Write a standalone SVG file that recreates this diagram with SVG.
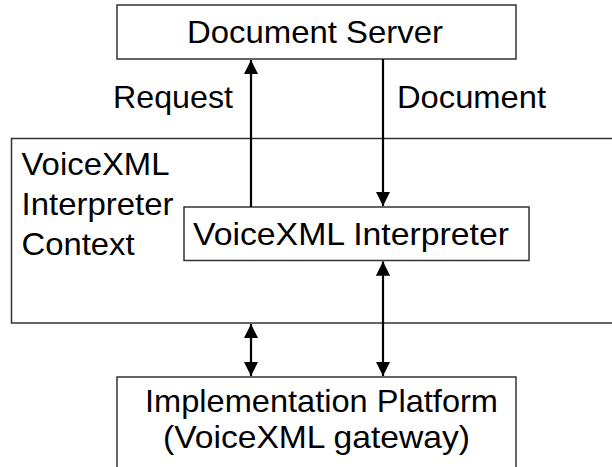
<svg xmlns="http://www.w3.org/2000/svg" width="612" height="467" viewBox="0 0 612 467">
<defs>
<style>
.box{fill:#fff;stroke:#333;stroke-width:1.5}
.t{font-family:"Liberation Sans",Arial,sans-serif;font-size:32px;fill:#000}
.c{stroke:#000;stroke-width:2.2;fill:none}
</style>
<marker id="ah" viewBox="0 0 10 10" refX="10" refY="5" markerWidth="6.5" markerHeight="6.5" markerUnits="strokeWidth" orient="auto-start-reverse">
<path d="M0,0 L10,5 L0,10 z" fill="#000"/>
</marker>
</defs>
<rect width="612" height="467" fill="#fff"/>
<g id="context">
<path class="box" d="M613,138.5 H11.5 V323 H613"/>
<text class="t" x="21.5" y="175" textLength="148" lengthAdjust="spacingAndGlyphs">VoiceXML</text>
<text class="t" x="21.5" y="215" textLength="152" lengthAdjust="spacingAndGlyphs">Interpreter</text>
<text class="t" x="21.5" y="255" textLength="113" lengthAdjust="spacingAndGlyphs">Context</text>
</g>
<g id="server">
<rect class="box" x="117" y="5" width="399" height="54"/>
<text class="t" x="187" y="43" textLength="256" lengthAdjust="spacingAndGlyphs">Document Server</text>
</g>
<g id="interpreter">
<rect class="box" x="184" y="207" width="345" height="53.5"/>
<text class="t" x="193" y="245" textLength="316" lengthAdjust="spacingAndGlyphs">VoiceXML Interpreter</text>
</g>
<g id="platform">
<rect class="box" x="117" y="377" width="399" height="100"/>
<text class="t" x="145" y="412" textLength="353" lengthAdjust="spacingAndGlyphs">Implementation Platform</text>
<text class="t" x="163" y="448" textLength="307" lengthAdjust="spacingAndGlyphs">(VoiceXML gateway)</text>
</g>
<g id="connectors">
<line class="c" x1="251" y1="207" x2="251" y2="60" marker-end="url(#ah)"/>
<line class="c" x1="383" y1="59" x2="383" y2="206" marker-end="url(#ah)"/>
<line class="c" x1="251" y1="324" x2="251" y2="376" marker-start="url(#ah)" marker-end="url(#ah)"/>
<line class="c" x1="383" y1="261.5" x2="383" y2="376" marker-start="url(#ah)" marker-end="url(#ah)"/>
<text class="t" x="113" y="108" textLength="120" lengthAdjust="spacingAndGlyphs">Request</text>
<text class="t" x="397" y="108" textLength="149" lengthAdjust="spacingAndGlyphs">Document</text>
</g>
</svg>
